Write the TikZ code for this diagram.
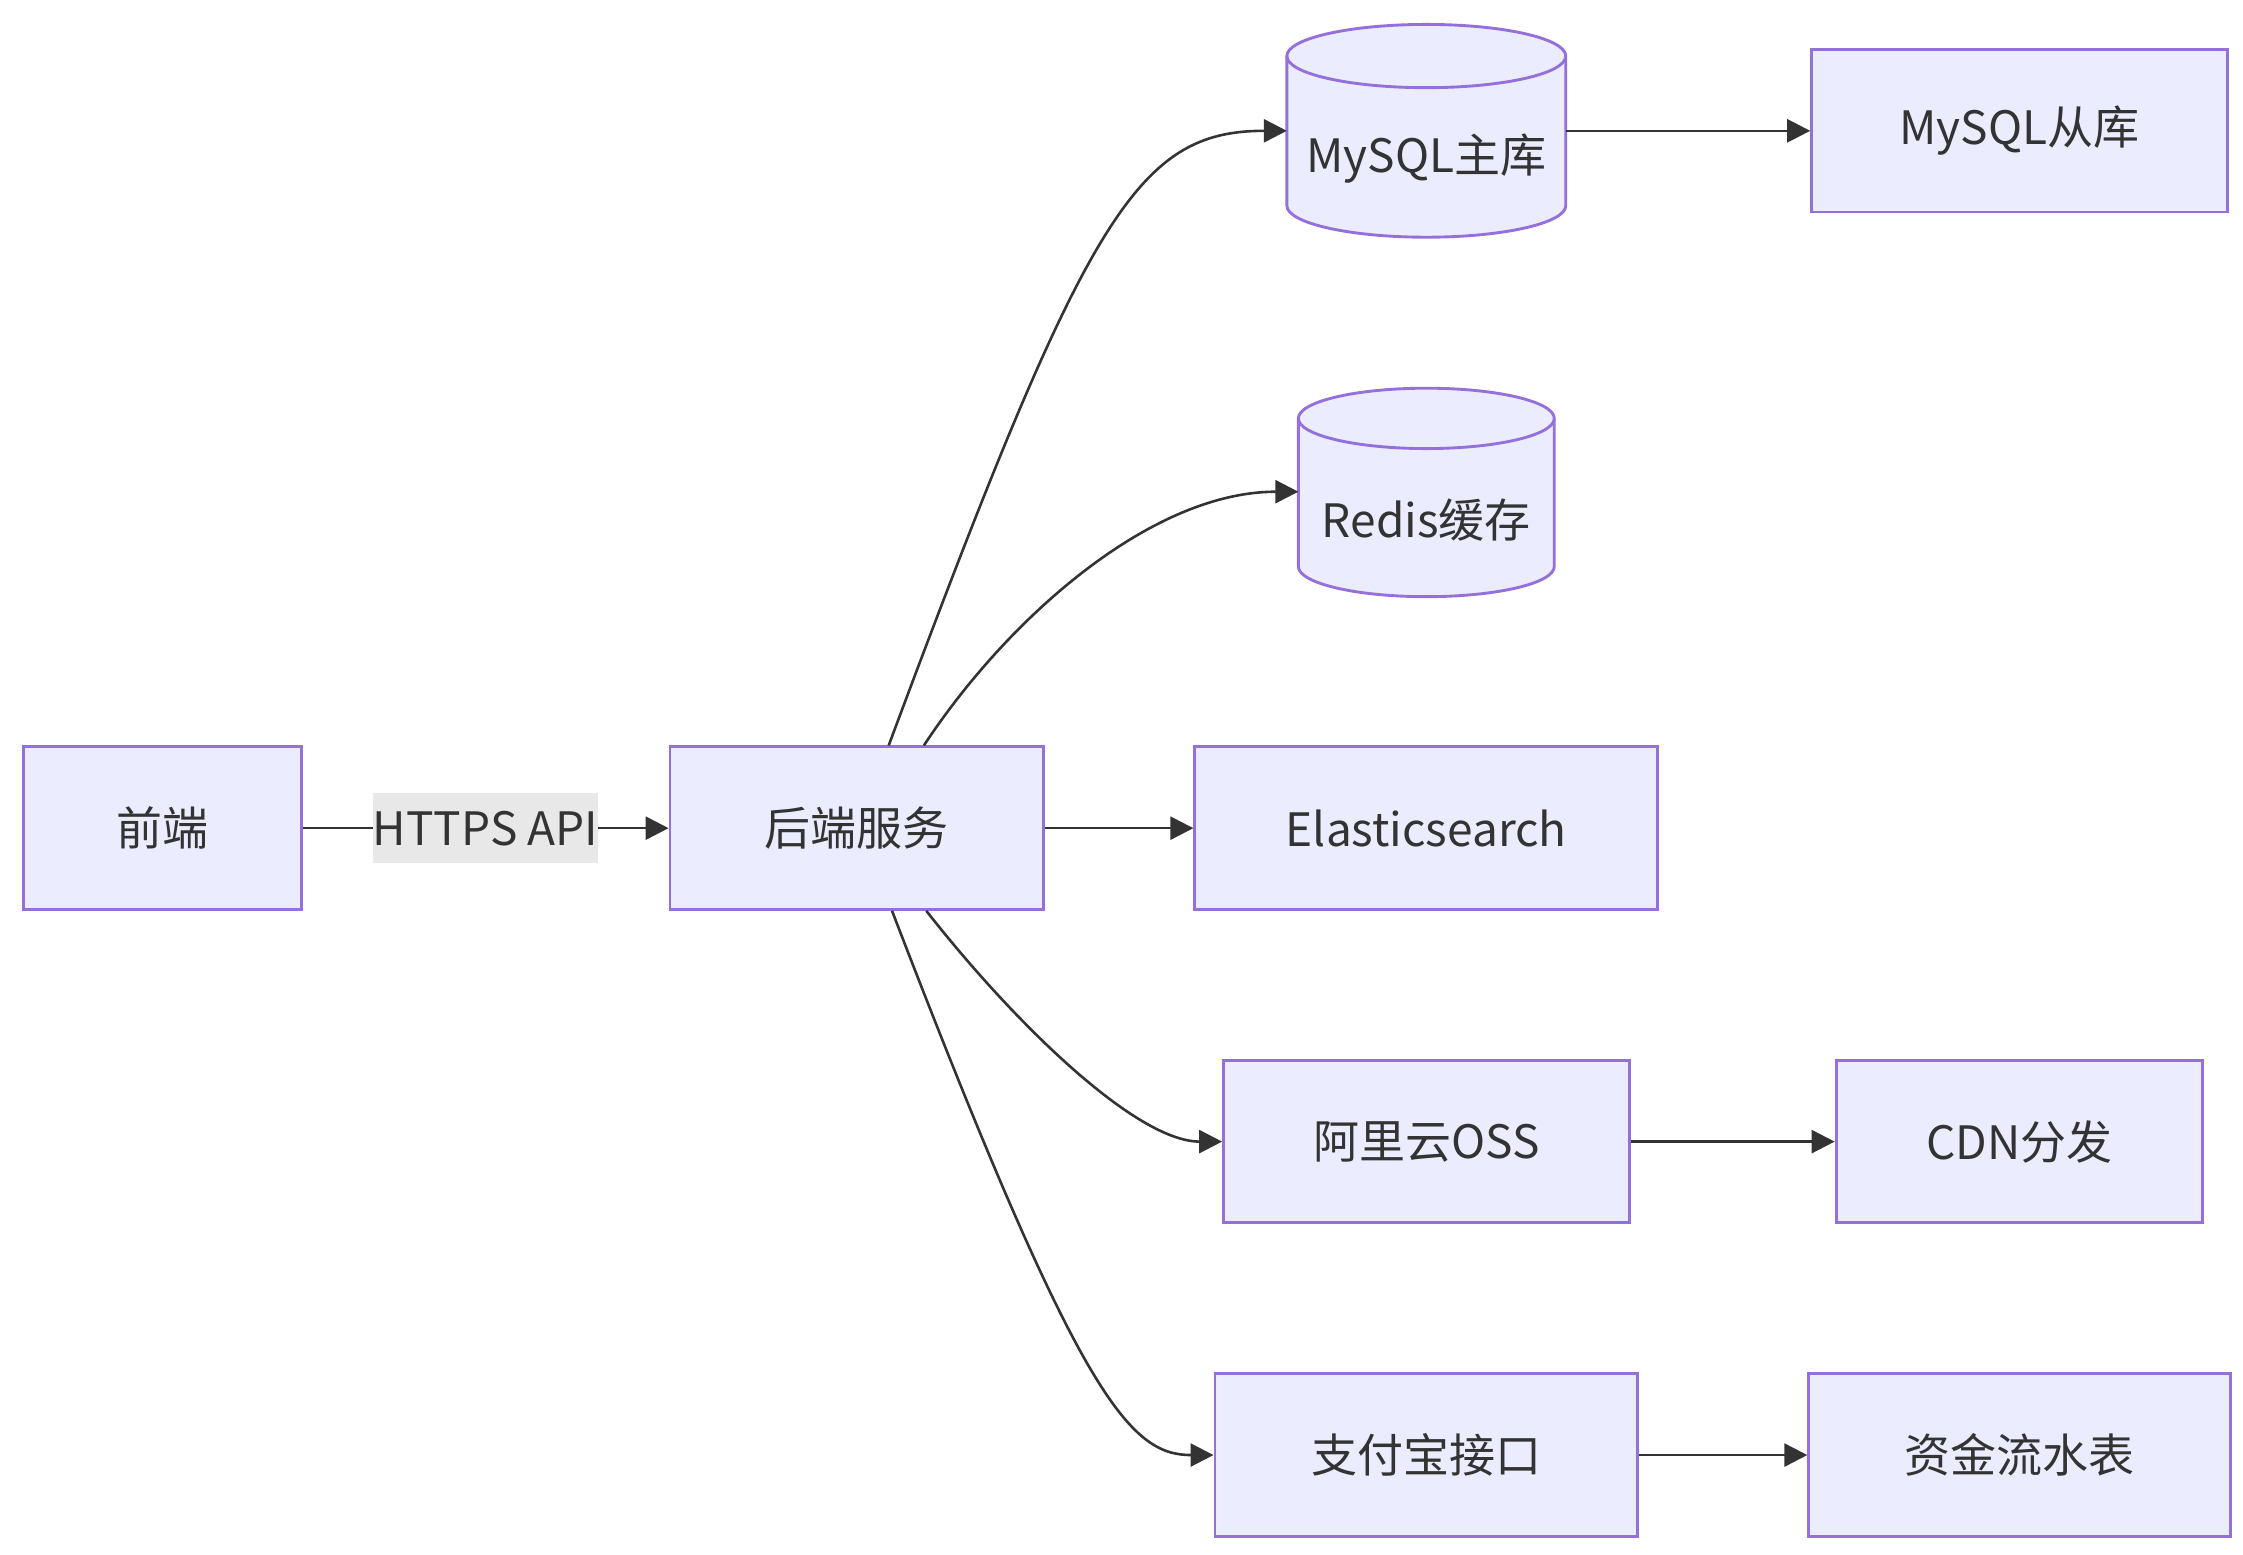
\documentclass[tikz,border=0pt]{standalone}
\usepackage{fontspec}
\setmainfont{Noto Sans CJK SC}
\usepackage{tikz}
\usetikzlibrary {arrows.meta,
                 calc}
\definecolor{boxfill}{HTML}{ECECFF}
\definecolor{boxline}{HTML}{9370DB}
\definecolor{ink}{HTML}{333333}
\definecolor{lblfill}{HTML}{E8E8E8}
\tikzset{
        proc/.style={draw=boxline, fill=boxfill, line width=1pt, rectangle,
        minimum height=56.5pt, text=ink, font=\fontsize{16}{19}\selectfont},
        db/.style={draw=boxline, fill=boxfill, line width=1pt},
        dbtext/.style={text=ink, font=\fontsize{16}{19}\selectfont},
        lbl/.style={fill=lblfill, text=ink, inner xsep=0pt,
                    minimum height=24.5pt, font=\fontsize{16}{19}\selectfont},
        myarrow/.style={-{Triangle[length=8pt, width=8pt]}, draw=ink,
                        line width=0.9pt},
 }

\begin{document}
\begin{tikzpicture}[x=0.5pt, y=0.5pt]
    \useasboundingbox (0,0) rectangle (1560,1081);

    % left part
    \node[proc, minimum width=96.5pt] (front) at (113,505) {前端};
    \node[proc, minimum width=130pt] (back) at (596,505) {后端服务};

    % middle column
    \path[db] (895,1042) -- (895,938)
        arc[start angle=180, end angle=360, x radius=48.5pt, y radius=11pt]
        -- (1089,1042)
        arc[start angle=0, end angle=180, x radius=48.5pt, y radius=11pt]
        -- cycle;
    \draw[db, fill=none] (895,1042)
        arc[start angle=180, end angle=360, x radius=48.5pt, y radius=11pt];
    \node[dbtext] (master) at (992,971) {MySQL主库};
    \coordinate (masterL) at (895,990);
    \coordinate (masterR) at (1089,990);

    \path[db] (903,790) -- (903,687)
        arc[start angle=180, end angle=360, x radius=44.5pt, y radius=10.5pt]
        -- (1081,790)
        arc[start angle=0, end angle=180, x radius=44.5pt, y radius=10.5pt]
        -- cycle;
    \draw[db, fill=none] (903,790)
        arc[start angle=180, end angle=360, x radius=44.5pt, y radius=10.5pt];
    \node[dbtext] (redis) at (992,719) {Redis缓存};
    \coordinate (redisL) at (903,739);

    \node[proc, minimum width=161pt] (search) at (992,505) {Elasticsearch};
    \node[proc, minimum width=141pt] (oss) at (992,287) {阿里云OSS};
    \node[proc, minimum width=147pt] (pay) at (992,69) {支付宝接口};

    % right column
    \node[proc, minimum width=144.5pt] (slave) at (1404.5,990) {MySQL从库};
    \node[proc, minimum width=127.5pt] (cdn) at (1404.5,287) {CDN分发};
    \node[proc, minimum width=146.5pt] (ledger) at (1404.5,69) {资金流水表};

    % connectors
    \draw[myarrow] (front) -- node[lbl] {HTTPS API} (back);
    \draw[myarrow] (back) -- (search);
    \draw[myarrow] (back.69) .. controls (755,930) and (790,990) .. (masterL);
    \draw[myarrow] (back.51) .. controls (700,650) and (800,739) .. (redisL);
    \draw[myarrow] (back.-50) .. controls (705,370) and (790,287) .. (oss.west);
    \draw[myarrow] (back.-67) .. controls (750,110) and (785,69) .. (pay.west);
    \draw[myarrow] (masterR) -- (slave);
    \draw[myarrow] (oss) -- (cdn);
    \draw[myarrow] (pay) -- (ledger);

\end{tikzpicture}
\end{document}
